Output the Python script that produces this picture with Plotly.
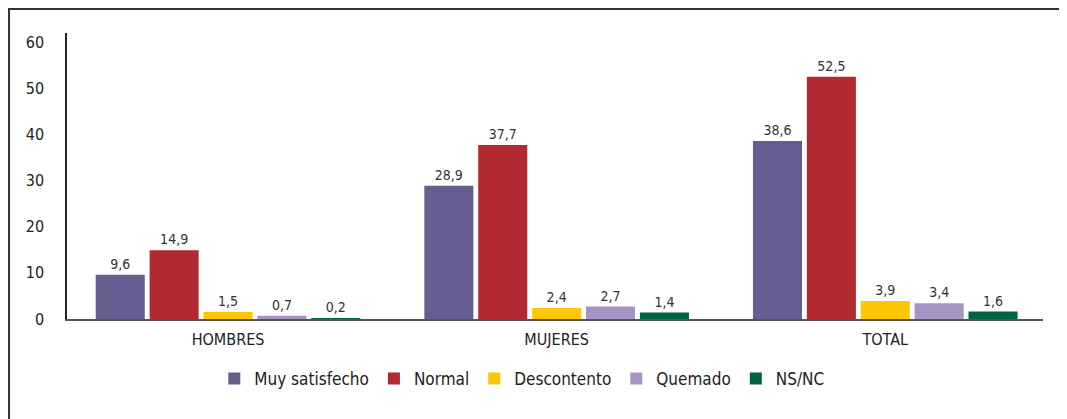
import plotly.graph_objects as go

categorias = ["HOMBRES", "MUJERES", "TOTAL"]
series = ["Muy satisfecho", "Normal", "Descontento", "Quemado", "NS/NC"]
muy_satisfecho = [9.6, 28.9, 38.6]
normal = [14.9, 37.7, 52.5]
descontento = [1.5, 2.4, 3.9]
quemado = [0.7, 2.7, 3.4]
ns_nc = [0.2, 1.4, 1.6]
colores = ["#655e90", "#b22932", "#fcc707", "#a594c4", "#006343"]

valores = [muy_satisfecho, normal, descontento, quemado, ns_nc]
font_family = "Liberation Sans Narrow, DejaVu Sans Condensed, Arial Narrow, sans-serif"

fig = go.Figure()
for nombre, vals, color in zip(series, valores, colores):
    fig.add_trace(go.Bar(
        x=categorias, y=vals, name=nombre,
        marker=dict(color=color, line=dict(width=0)),
        texttemplate="%{y:.1f}", textposition="outside",
        textfont=dict(size=14, color="#333333"),
        cliponaxis=False,
    ))

# the page has an 8px body margin, so the figure is a bit smaller than the window
fig.update_layout(
    width=1059, height=411,
    margin=dict(l=59, r=24, t=25, b=100),
    paper_bgcolor="white", plot_bgcolor="white",
    separators=",.",
    barmode="group", bargap=0.18, bargroupgap=0.09,
    font=dict(family=font_family, size=15, color="#222222"),
    showlegend=True,
    legend=dict(orientation="h", x=0.466, xanchor="center", y=-0.21, yanchor="middle",
                font=dict(size=17, color="#222222"), itemwidth=30, traceorder="normal"),
    xaxis=dict(range=[-0.49, 2.48], showline=True, linecolor="#555555", linewidth=2,
               ticks="", showgrid=False, tickfont=dict(size=16), ticklabelstandoff=5),
    yaxis=dict(range=[0, 62], tickvals=[0, 10, 20, 30, 40, 50, 60], showline=True,
               linecolor="#222222", linewidth=1.5, ticks="", showgrid=False, zeroline=False,
               ticklabelstandoff=18, tickfont=dict(size=16)),
)

fig.add_shape(type="rect", xref="paper", yref="paper",
              x0=-0.0594, x1=1.0205, y0=-0.5, y1=1.084,
              line=dict(color="#333333", width=2), fillcolor="rgba(0,0,0,0)", layer="below")

fig.write_html("out.html")
